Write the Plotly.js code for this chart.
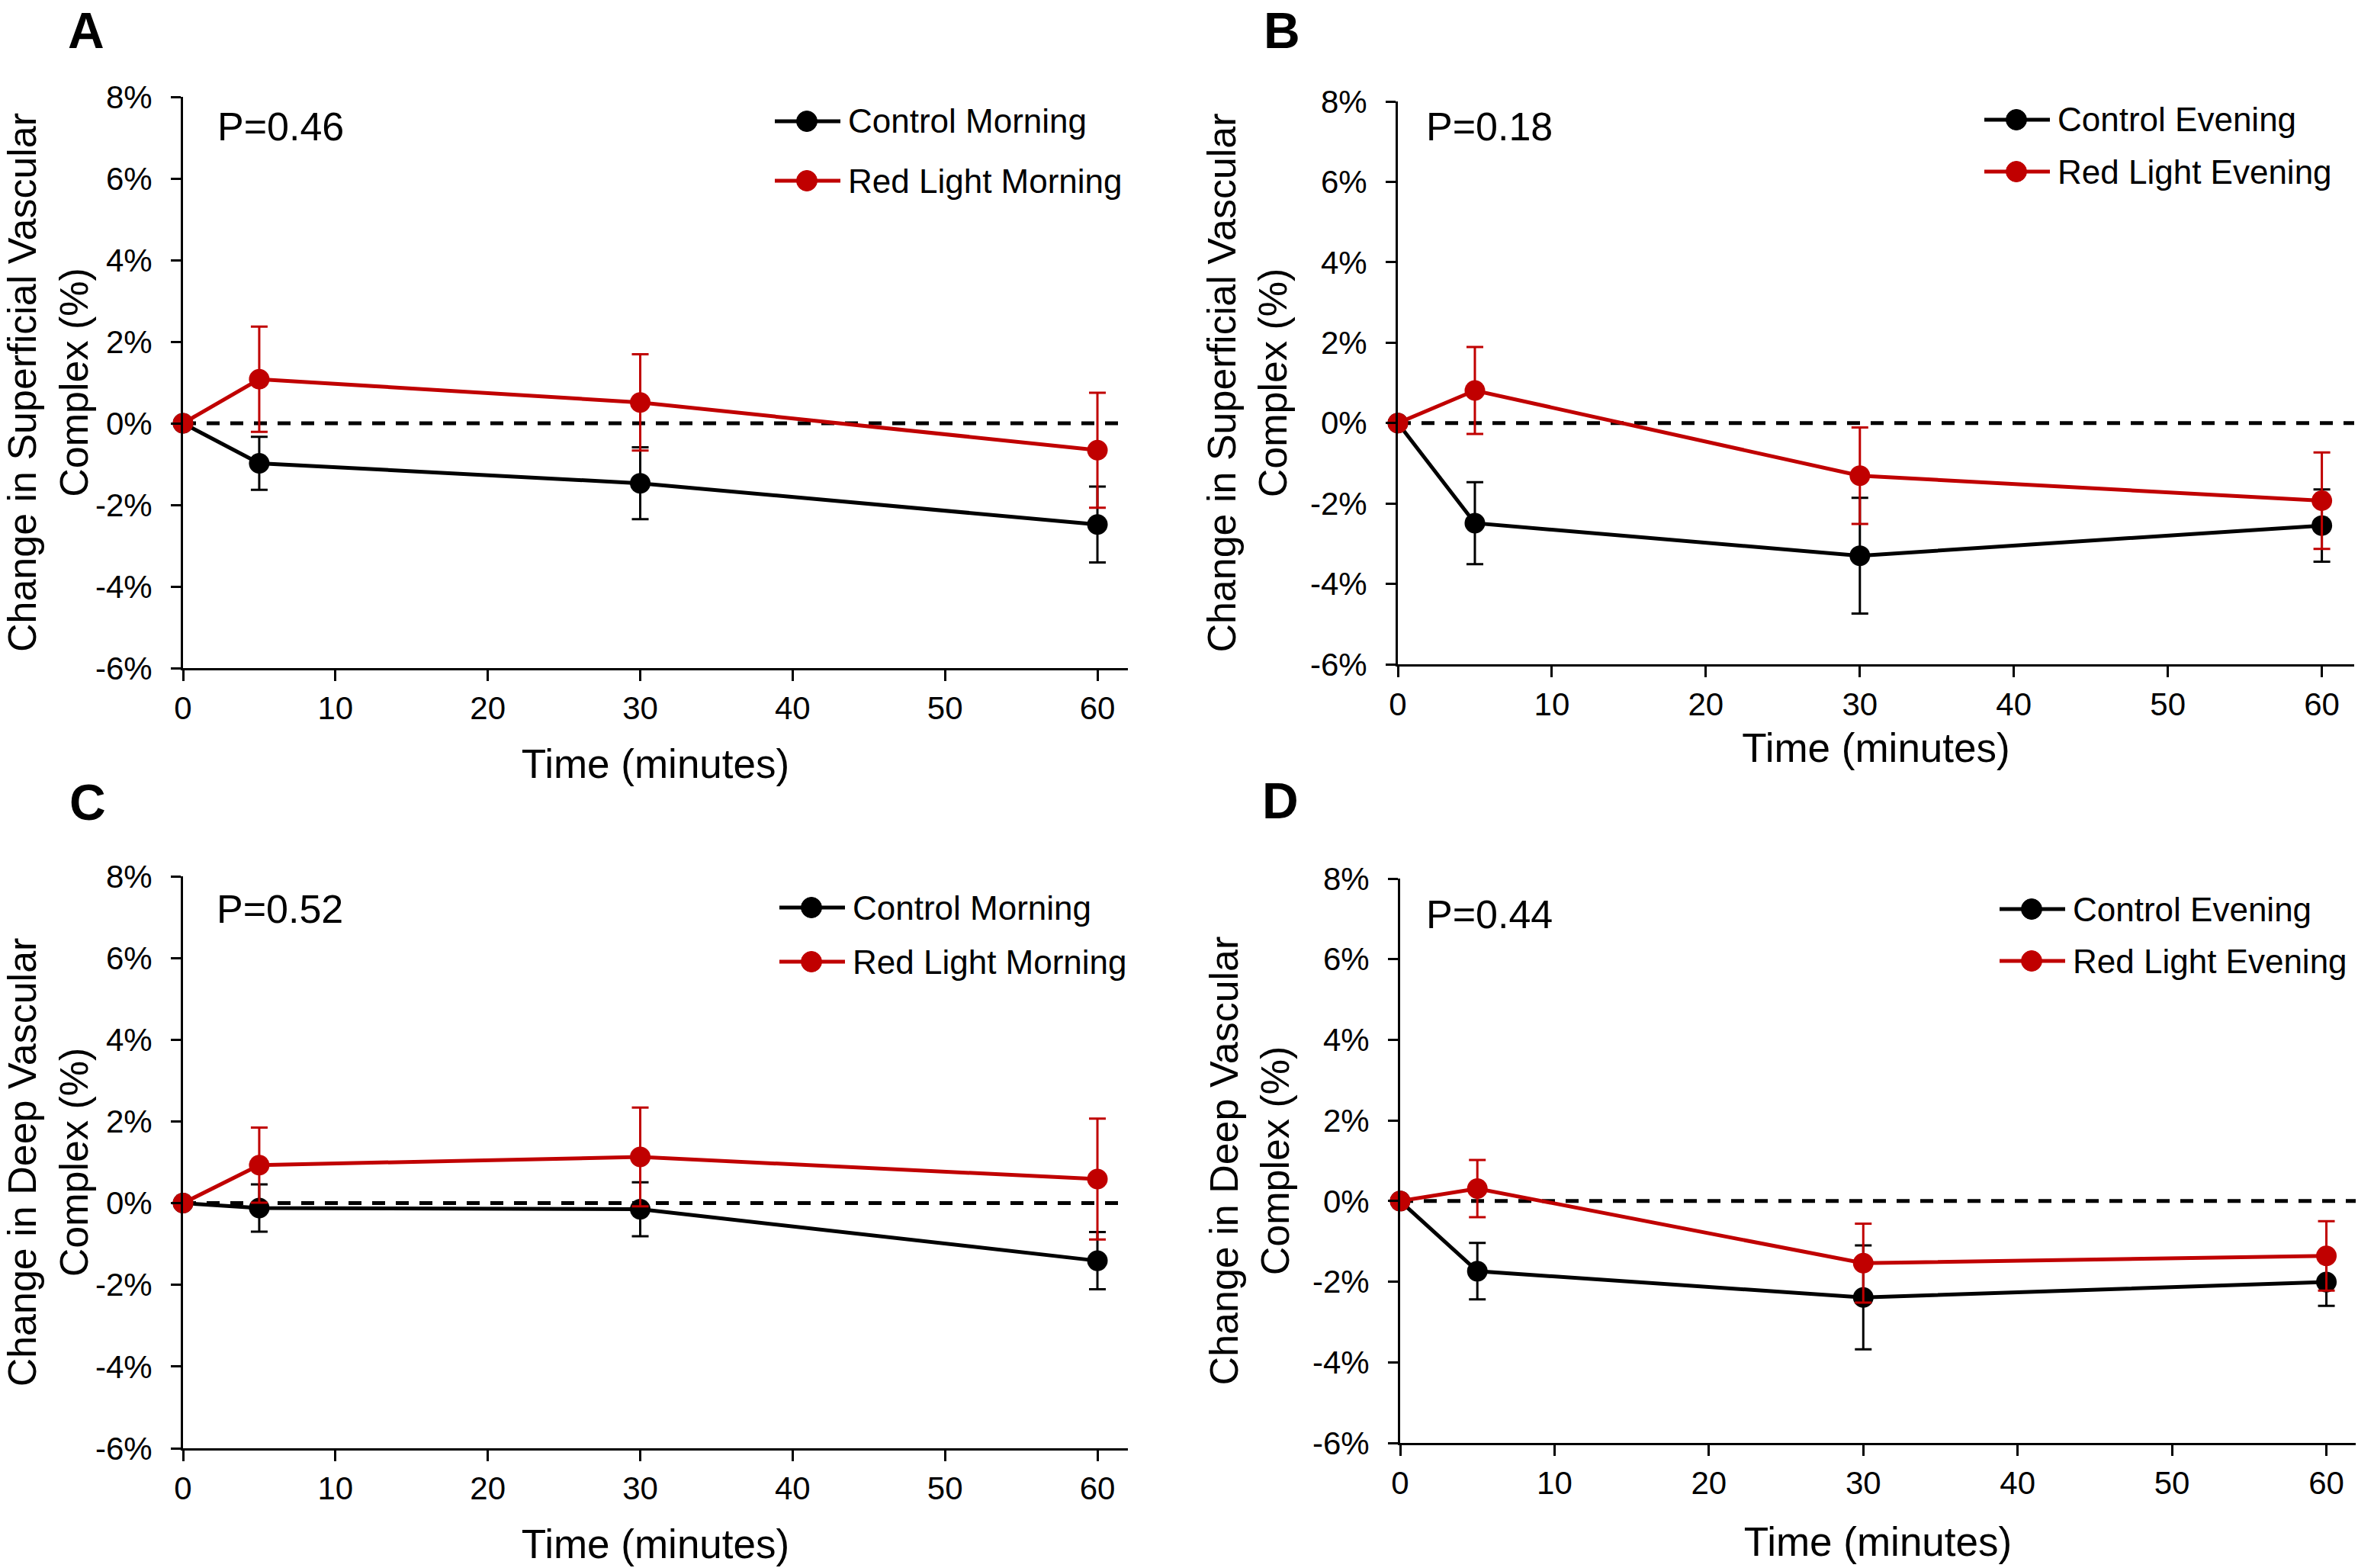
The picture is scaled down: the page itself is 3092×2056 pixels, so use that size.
<!DOCTYPE html>
<html>
<head>
<meta charset="utf-8">
<script src="https://cdn.plot.ly/plotly-3.0.1.min.js"></script>
<style>
  html, body { margin: 0; padding: 0; background: #fff; }
  #chart { width: 3092px; height: 2056px; }
</style>
</head>
<body>
<div id="chart"></div>
<script>
// ---------- data ----------
const timeMinutes = [0, 5, 30, 60];

// Panel A: superficial vascular complex, morning
const ctrlMorningSVC = [0, -0.98, -1.47, -2.48];
const ctrlMorningSVCErr = [0, 0.65, 0.88, 0.93];
const redMorningSVC = [0, 1.08, 0.51, -0.66];
const redMorningSVCErr = [0, 1.29, 1.18, 1.41];

// Panel B: superficial vascular complex, evening
const ctrlEveningSVC = [0, -2.49, -3.30, -2.55];
const ctrlEveningSVCErr = [0, 1.02, 1.44, 0.90];
const redEveningSVC = [0, 0.81, -1.31, -1.93];
const redEveningSVCErr = [0, 1.08, 1.20, 1.20];

// Panel C: deep vascular complex, morning
const ctrlMorningDVC = [0, -0.12, -0.15, -1.41];
const ctrlMorningDVCErr = [0, 0.58, 0.66, 0.70];
const redMorningDVC = [0, 0.93, 1.13, 0.59];
const redMorningDVCErr = [0, 0.92, 1.21, 1.48];

// Panel D: deep vascular complex, evening
const ctrlEveningDVC = [0, -1.74, -2.39, -2.01];
const ctrlEveningDVCErr = [0, 0.70, 1.29, 0.59];
const redEveningDVC = [0, 0.31, -1.54, -1.36];
const redEveningDVCErr = [0, 0.71, 0.98, 0.86];

const panelLetters = ['A', 'B', 'C', 'D'];
const pValues = ['P=0.46', 'P=0.18', 'P=0.52', 'P=0.44'];
const ctrlNames = ['Control Morning', 'Control Evening', 'Control Morning', 'Control Evening'];
const redNames = ['Red Light Morning', 'Red Light Evening', 'Red Light Morning', 'Red Light Evening'];
const yTitles = ['Change in Superficial Vascular<br>Complex (%)', 'Change in Superficial Vascular<br>Complex (%)',
                 'Change in Deep Vascular<br>Complex (%)', 'Change in Deep Vascular<br>Complex (%)'];
const xTitle = 'Time (minutes)';
const yTickVals = [-6, -4, -2, 0, 2, 4, 6, 8];
const yTickText = ['-6%', '-4%', '-2%', '0%', '2%', '4%', '6%', '8%'];
const xTickVals = [0, 10, 20, 30, 40, 50, 60];

const ctrlSeries = [ctrlMorningSVC, ctrlEveningSVC, ctrlMorningDVC, ctrlEveningDVC];
const ctrlErrs = [ctrlMorningSVCErr, ctrlEveningSVCErr, ctrlMorningDVCErr, ctrlEveningDVCErr];
const redSeries = [redMorningSVC, redEveningSVC, redMorningDVC, redEveningDVC];
const redErrs = [redMorningSVCErr, redEveningSVCErr, redMorningDVCErr, redEveningDVCErr];

// ---------- layout geometry (pixels in a 3092 x 2056 page) ----------
const W = 3092, H = 2056;
const px = v => v / W;
const py = v => 1 - v / H;
const panels = [
  { l: 240,  r: 1479, t: 127,  b: 876,  xmax: 62.0, xStand: 32, letter: [87, 1],      p: [283, 166],   leg: [1016, 159, 237] },
  { l: 1833, r: 3087, t: 133,  b: 871,  xmax: 62.1, xStand: 16, letter: [1655, 1],    p: [1868, 166],  leg: [2602, 157, 225] },
  { l: 240,  r: 1479, t: 1149, b: 1899, xmax: 62.0, xStand: 32, letter: [89, 1013],   p: [282, 1192],  leg: [1022, 1190, 1261] },
  { l: 1836, r: 3089, t: 1152, b: 1892, xmax: 61.9, xStand: 36, letter: [1653, 1011], p: [1868, 1199], leg: [2622, 1192, 1260] }
];

const RED = '#C00000';
const BLACK = '#000000';
const FONT = 'Liberation Sans, Arial, Helvetica, sans-serif';

const traces = [];
const layout = {
  width: W, height: H,
  margin: { l: 0, r: 0, t: 0, b: 0 },
  paper_bgcolor: '#ffffff',
  plot_bgcolor: 'rgba(0,0,0,0)',
  showlegend: false,
  font: { family: FONT, color: '#000', size: 42 },
  annotations: [],
  shapes: []
};

panels.forEach((pn, i) => {
  const n = i + 1;
  const xa = 'x' + (n === 1 ? '' : n), ya = 'y' + (n === 1 ? '' : n);
  const xKey = 'xaxis' + (n === 1 ? '' : n), yKey = 'yaxis' + (n === 1 ? '' : n);

  const common = {
    mode: 'lines+markers', xaxis: xa, yaxis: ya, cliponaxis: false
  };
  traces.push(Object.assign({}, common, {
    name: ctrlNames[i], x: timeMinutes, y: ctrlSeries[i],
    line: { color: BLACK, width: 5 },
    marker: { color: BLACK, size: 27 },
    error_y: { type: 'data', array: ctrlErrs[i], visible: true, color: BLACK, thickness: 3, width: 11 }
  }));
  traces.push(Object.assign({}, common, {
    name: redNames[i], x: timeMinutes, y: redSeries[i],
    line: { color: RED, width: 5 },
    marker: { color: RED, size: 27 },
    error_y: { type: 'data', array: redErrs[i], visible: true, color: RED, thickness: 3, width: 11 }
  }));

  layout[xKey] = {
    domain: [px(pn.l), px(pn.r)], anchor: ya, range: [0, pn.xmax],
    tickvals: xTickVals, ticks: 'outside', ticklen: 14, tickwidth: 3, tickcolor: BLACK,
    showline: true, linewidth: 3, linecolor: BLACK, showgrid: false, zeroline: false,
    tickfont: { size: 42, family: FONT },
    title: { text: xTitle, font: { size: 53, family: FONT }, standoff: pn.xStand },
    fixedrange: true
  };
  layout[yKey] = {
    domain: [py(pn.b), py(pn.t)], anchor: xa, range: [-6, 8],
    tickvals: yTickVals, ticktext: yTickText, ticks: 'outside', ticklen: 13, tickwidth: 3, tickcolor: BLACK,
    ticklabelstandoff: 16,
    showline: true, linewidth: 3, linecolor: BLACK, showgrid: false, zeroline: false,
    tickfont: { size: 42, family: FONT },
    title: { text: yTitles[i], font: { size: 52, family: FONT }, standoff: 14 },
    fixedrange: true
  };

  // dashed reference line at 0 %
  layout.shapes.push({
    type: 'line', xref: xa + ' domain', yref: ya, x0: 0, x1: 1, y0: 0, y1: 0,
    line: { color: BLACK, width: 5, dash: '17px,14px' }, layer: 'below'
  });

  // panel letter
  layout.annotations.push({
    text: '<b>' + panelLetters[i] + '</b>', xref: 'paper', yref: 'paper',
    x: px(pn.letter[0]), y: py(pn.letter[1]), xanchor: 'left', yanchor: 'top',
    showarrow: false, font: { size: 66, family: FONT, color: BLACK }
  });
  // p-value
  layout.annotations.push({
    text: pValues[i], xref: 'paper', yref: 'paper',
    x: px(pn.p[0]), y: py(pn.p[1]), xanchor: 'left', yanchor: 'middle',
    showarrow: false, font: { size: 52, family: FONT, color: BLACK }
  });

  // legend
  const legRows = [[ctrlNames[i], BLACK, pn.leg[1]], [redNames[i], RED, pn.leg[2]]];
  legRows.forEach(([label, col, yy]) => {
    const x0 = pn.leg[0], x1 = pn.leg[0] + 86, xm = pn.leg[0] + 42;
    layout.shapes.push({
      type: 'line', xref: 'paper', yref: 'paper', x0: px(x0), x1: px(x1), y0: py(yy), y1: py(yy),
      line: { color: col, width: 5 }
    });
    layout.shapes.push({
      type: 'circle', xref: 'paper', yref: 'paper', xsizemode: 'pixel', ysizemode: 'pixel',
      xanchor: px(xm), yanchor: py(yy), x0: -13.5, x1: 13.5, y0: -13.5, y1: 13.5,
      fillcolor: col, line: { color: col, width: 1 }
    });
    layout.annotations.push({
      text: label, xref: 'paper', yref: 'paper', x: px(x0 + 94), y: py(yy),
      xanchor: 'left', yanchor: 'middle', showarrow: false,
      font: { size: 44, family: FONT, color: BLACK }
    });
  });
});

Plotly.newPlot('chart', traces, layout, { staticPlot: true, displayModeBar: false });
</script>
</body>
</html>
